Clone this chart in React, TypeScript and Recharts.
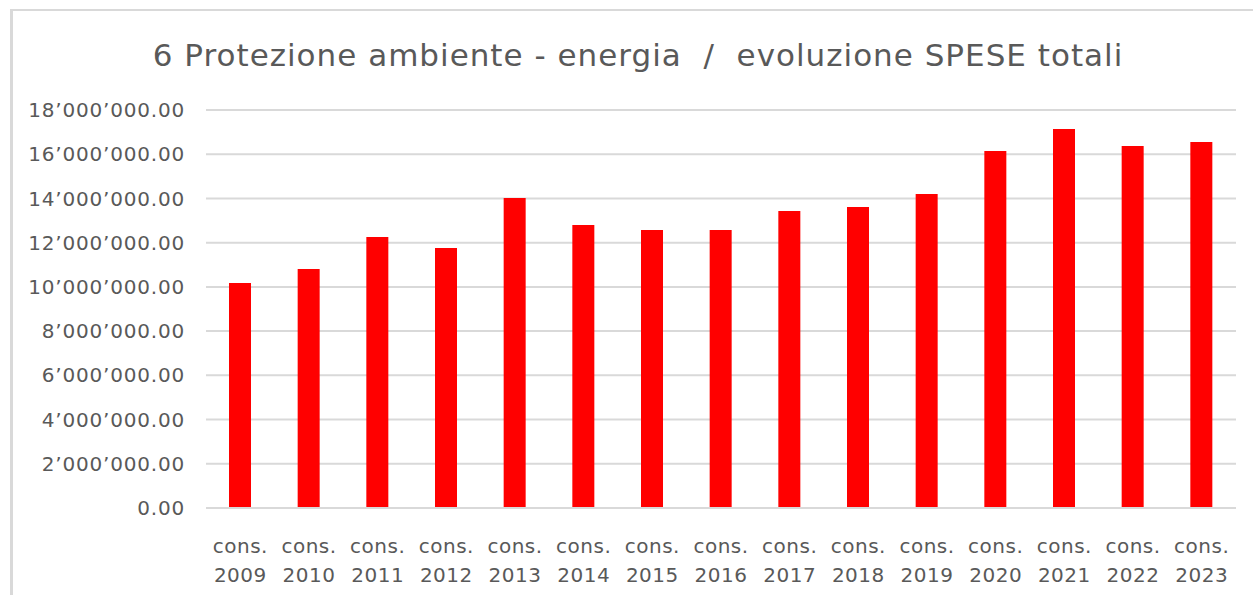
import React from "react";
import { BarChart, Bar, XAxis, YAxis, CartesianGrid } from "recharts";

const categories = ["2009","2010","2011","2012","2013","2014","2015","2016","2017","2018","2019","2020","2021","2022","2023"];
const spese = [10180000,10810000,12260000,11760000,14020000,12800000,12570000,12570000,13430000,13610000,14200000,16150000,17140000,16370000,16550000];
const yTicks = [0,2000000,4000000,6000000,8000000,10000000,12000000,14000000,16000000,18000000];
const title = "6 Protezione ambiente - energia  /  evoluzione SPESE totali";
const catPrefix = "cons.";

const data = categories.map((c, i) => ({ name: c, value: spese[i] }));

const FONT = "'DejaVu Sans', sans-serif";
const GRAY = "#595959";

function fmt(v: number): string {
  const s = Math.round(v).toString();
  const parts: string[] = [];
  for (let i = s.length; i > 0; i -= 3) parts.unshift(s.substring(Math.max(0, i - 3), i));
  return parts.join("\u2019") + ".00";
}

const XTick = (props: any) => {
  const { x, y, payload } = props;
  return (
    <text x={x} y={y} textAnchor="middle" fill={GRAY} fontSize={20} fontFamily={FONT} letterSpacing={0.5}>
      <tspan x={x} dy={43}>{catPrefix}</tspan>
      <tspan x={x} dy={29}>{payload.value}</tspan>
    </text>
  );
};

export default function App() {
  return (
    <div style={{ position: "absolute", left: 0, top: 0, width: 1253, height: 595, background: "#fff", overflow: "hidden" }}>
      <div style={{ position: "absolute", left: 10, top: 9, width: 1300, height: 700, borderTop: "2px solid #d9d9d9", borderLeft: "3px solid #d9d9d9" }} />
      <div style={{ position: "absolute", left: 0, top: 33, width: 1276, textAlign: "center", fontFamily: FONT, fontSize: 31, letterSpacing: 1, color: GRAY, whiteSpace: "pre", lineHeight: "44px" }}>
        {title}
      </div>
      <div style={{ position: "absolute", left: 0, top: 0 }}>
        <BarChart width={1253} height={595} data={data} margin={{ top: 110, right: 17, left: 0, bottom: 0 }}>
          <CartesianGrid vertical={false} stroke="#d9d9d9" strokeWidth={2} />
          <XAxis dataKey="name" axisLine={{ stroke: "#d9d9d9", strokeWidth: 2 }} tickLine={false} tickSize={0} tick={<XTick />} height={87} interval={0} />
          <YAxis width={206} domain={[0, 18000000]} ticks={yTicks} axisLine={false} tickLine={false} tickSize={0} tickMargin={21} tickFormatter={fmt} tick={{ fill: GRAY, fontSize: 20, fontFamily: FONT, letterSpacing: 0.8 }} interval={0} />
          <Bar dataKey="value" fill="#ff0000" barSize={22} isAnimationActive={false} />
        </BarChart>
      </div>
    </div>
  );
}
